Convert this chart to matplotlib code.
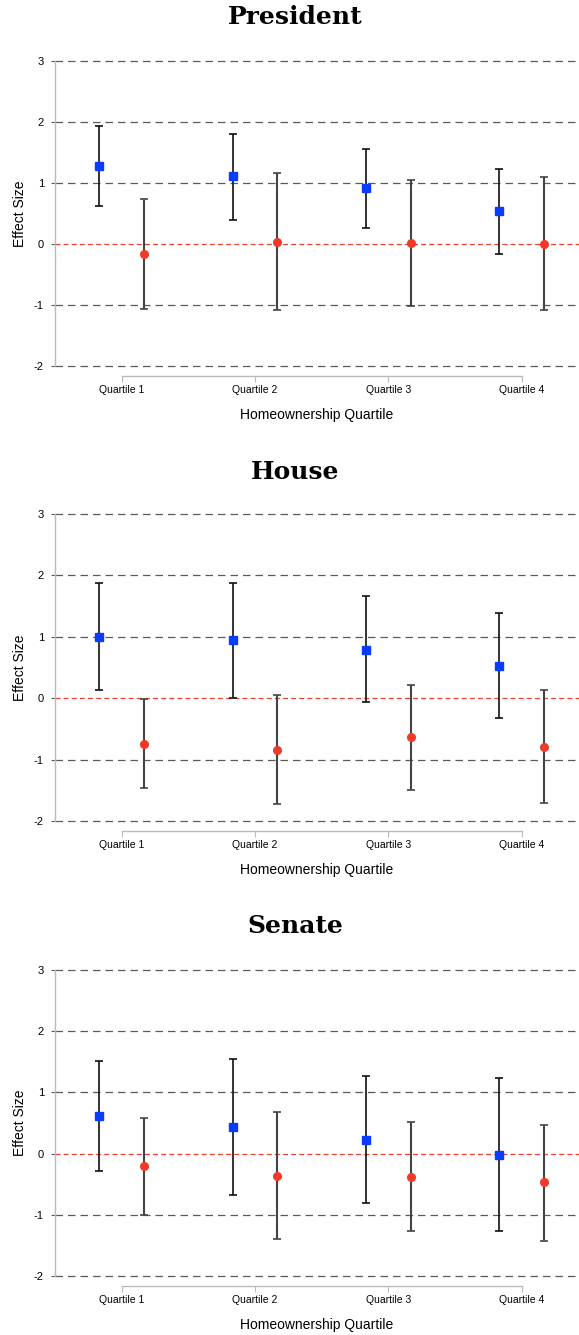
import numpy as np
import matplotlib
matplotlib.use("Agg")
import matplotlib.pyplot as plt

plt.rcParams['font.family'] = ['Liberation Sans', 'DejaVu Sans']

quartiles = ["Quartile 1", "Quartile 2", "Quartile 3", "Quartile 4"]
panels = ["President", "House", "Senate"]

# blue squares: estimate, lower, upper
blue_est = {
    "President": [1.28, 1.11, 0.91, 0.54],
    "House": [1.00, 0.94, 0.79, 0.53],
    "Senate": [0.61, 0.43, 0.23, -0.02],
}
blue_lo = {
    "President": [0.63, 0.40, 0.26, -0.16],
    "House": [0.14, 0.00, -0.07, -0.32],
    "Senate": [-0.29, -0.67, -0.80, -1.26],
}
blue_hi = {
    "President": [1.93, 1.81, 1.55, 1.23],
    "House": [1.88, 1.88, 1.66, 1.38],
    "Senate": [1.52, 1.54, 1.27, 1.23],
}

# red circles: estimate, lower, upper
red_est = {
    "President": [-0.17, 0.04, 0.01, 0.00],
    "House": [-0.74, -0.84, -0.64, -0.79],
    "Senate": [-0.21, -0.36, -0.38, -0.47],
}
red_lo = {
    "President": [-1.07, -1.08, -1.01, -1.09],
    "House": [-1.46, -1.73, -1.50, -1.71],
    "Senate": [-1.01, -1.39, -1.27, -1.42],
}
red_hi = {
    "President": [0.74, 1.16, 1.05, 1.10],
    "House": [-0.01, 0.05, 0.21, 0.13],
    "Senate": [0.58, 0.68, 0.51, 0.47],
}

W, H = 579, 1335
fig = plt.figure(figsize=(W / 100, H / 100), dpi=100)

# axes top / bottom in pixels for each panel
axes_px = [(61, 366), (514, 821), (970, 1276)]
title_px = [17, 472, 926]

x = np.arange(1, 5)
off = 1 / 6

for name, (top, bot), ty in zip(panels, axes_px, title_px):
    ax = fig.add_axes([55 / W, (H - bot) / H, (W - 55) / W, (bot - top) / H])
    ax.set_xlim(0.5, 4.43)
    ax.set_ylim(-2, 3)

    for yv in [-2, -1, 1, 2, 3]:
        ax.axhline(yv, color="#5a5a5a", lw=0.9, dashes=(6, 4), zorder=1, clip_on=False)
    ax.axhline(0, color="#f0402f", lw=0.9, dashes=(4, 2.5), zorder=1)

    b = np.array(blue_est[name])
    ax.errorbar(x - off, b,
                yerr=[b - np.array(blue_lo[name]), np.array(blue_hi[name]) - b],
                fmt="none", ecolor="#111111", elinewidth=1.2, capsize=3, capthick=1.2, zorder=2)
    ax.plot(x - off, b, "s", color="#0a3cff", ms=5.2, zorder=3)

    r = np.array(red_est[name])
    ax.errorbar(x + off, r,
                yerr=[r - np.array(red_lo[name]), np.array(red_hi[name]) - r],
                fmt="none", ecolor="#444444", elinewidth=1.5, capsize=3, capthick=1.2, zorder=2)
    ax.plot(x + off, r, "o", color="#ef3a2a", ms=5.5, zorder=3)

    for s in ["top", "right"]:
        ax.spines[s].set_visible(False)
    ax.spines["left"].set_color("#bbbbbb")
    ax.spines["left"].set_linewidth(1.0)
    ax.spines["bottom"].set_color("#bbbbbb")
    ax.spines["bottom"].set_linewidth(1.0)
    ax.spines["bottom"].set_position(("outward", 7))
    ax.spines["bottom"].set_bounds(1, 4)

    ax.set_xticks(x)
    ax.set_xticklabels(quartiles, fontsize=7.5)
    ax.tick_params(axis="x", length=4, color="#bbbbbb", pad=3)
    ax.set_yticks([-2, -1, 0, 1, 2, 3])
    ax.set_yticklabels(["-2", "-1", "0", "1", "2", "3"], fontsize=8)
    ax.tick_params(axis="y", length=3, color="#5a5a5a", pad=5)

    ax.set_xlabel("Homeownership Quartile", fontsize=10, labelpad=9)
    ax.set_ylabel("Effect Size", fontsize=10, labelpad=5)

    fig.text(295 / W, 1 - ty / H, name, fontfamily="DejaVu Serif", fontweight="bold",
             fontsize=18, ha="center", va="center")

fig.savefig("out.png", dpi=100)
